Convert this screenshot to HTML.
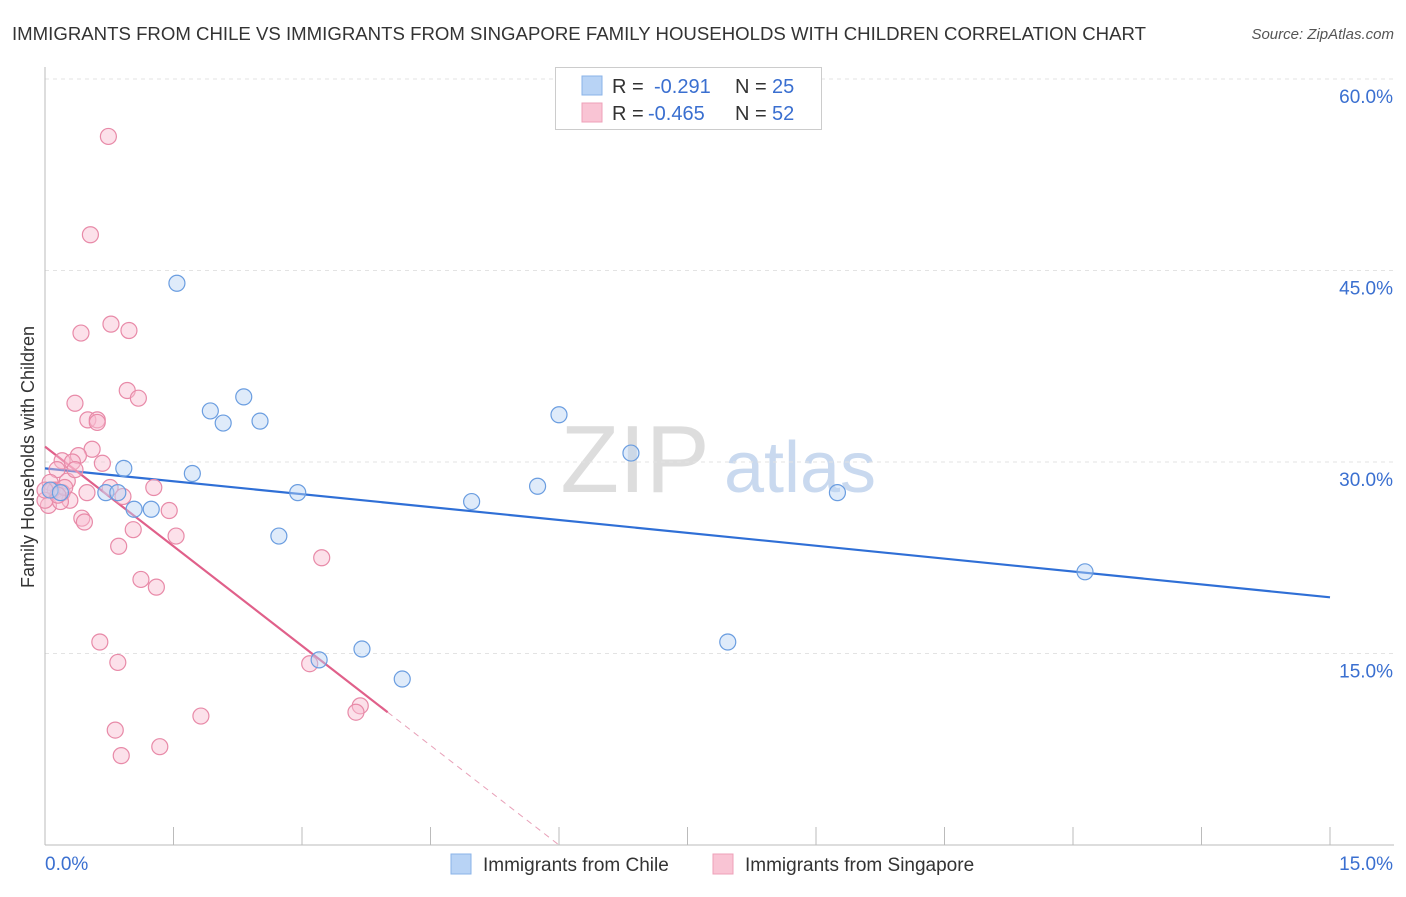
<!DOCTYPE html>
<html><head><meta charset="utf-8"><style>
body{margin:0;background:#fff;font-family:"Liberation Sans",sans-serif;}
svg text{font-family:"Liberation Sans",sans-serif;}
</style></head><body>
<svg id="chart" width="1406" height="892">
<text x="12" y="40" font-size="18" fill="#333" textLength="1134" lengthAdjust="spacingAndGlyphs">IMMIGRANTS FROM CHILE VS IMMIGRANTS FROM SINGAPORE FAMILY HOUSEHOLDS WITH CHILDREN CORRELATION CHART</text>
<text x="1394" y="39" font-size="15" fill="#555" font-style="italic" text-anchor="end">Source: ZipAtlas.com</text>
<text x="635" y="492" font-size="96" fill="#ddd" font-family="Liberation Serif" text-anchor="middle">ZIP</text>
<text x="800" y="492" font-size="72" fill="#c9d9ef" text-anchor="middle">atlas</text>
<text transform="translate(34,457) rotate(-90)" font-size="18" fill="#333" text-anchor="middle">Family Households with Children</text>
<g id="grid"></g><g id="axes"></g><g id="lines"></g><g id="pts"></g>
<g>
<rect x="555.5" y="67.5" width="266" height="62" fill="#fff" stroke="#ccc"/>
<rect x="582" y="76" width="20" height="19" fill="#b8d3f5" stroke="#8ab3e8"/>
<rect x="582" y="103" width="20" height="19" fill="#f9c4d4" stroke="#eea0b8"/>
<text x="612" y="93" font-size="20" fill="#333">R = </text><text x="654" y="93" font-size="20" fill="#3a6fd0">-0.291</text>
<text x="735" y="93" font-size="20" fill="#333">N = </text><text x="772" y="93" font-size="20" fill="#3a6fd0">25</text>
<text x="612" y="120" font-size="20" fill="#333">R = </text><text x="648" y="120" font-size="20" fill="#3a6fd0">-0.465</text>
<text x="735" y="120" font-size="20" fill="#333">N = </text><text x="772" y="120" font-size="20" fill="#3a6fd0">52</text>
</g>
<g>
<rect x="451" y="854" width="20" height="20" fill="#b8d3f5" stroke="#8ab3e8"/>
<text x="483" y="871" font-size="19" fill="#333">Immigrants from Chile</text>
<rect x="713" y="854" width="20" height="20" fill="#f9c4d4" stroke="#eea0b8"/>
<text x="745" y="871" font-size="19" fill="#333">Immigrants from Singapore</text>
</g>
</svg>
<script>
const yTicks=[15,30,45,60];
const yTickLabels=["15.0%","30.0%","45.0%","60.0%"];
const chileX=[1.54,0.92,0.71,0.85,1.04,1.24,1.93,2.08,2.32,2.51,1.72,2.95,2.73,3.20,3.70,4.17,4.98,5.75,6.00,6.84,9.25,12.14,7.97,0.06,0.18];
const chileY=[44.0,29.5,27.6,27.6,26.3,26.3,34.0,33.05,35.1,33.2,29.1,27.6,24.2,14.5,15.35,13.0,26.9,28.1,33.7,30.7,27.6,21.4,15.9,27.8,27.6];
const singX=[0.74,0.53,0.77,0.98,0.42,0.96,1.09,0.35,0.50,0.61,0.61,0.55,0.39,0.20,0.67,0.32,0.14,0.26,0.76,1.27,0.06,0.12,0.20,0.49,0.91,0.29,0.04,0.18,0.43,0.46,1.45,1.03,1.53,0.86,1.12,1.30,3.23,0.64,0.85,3.09,1.82,3.68,3.63,0.82,1.34,0.89,0.08,0.0,0.23,0.15,0.35,0.0];
const singY=[55.5,47.8,40.8,40.3,40.1,35.6,35.0,34.6,33.3,33.3,33.1,31.0,30.5,30.1,29.9,30.0,29.4,28.5,28.0,28.0,28.4,27.8,27.6,27.6,27.3,27.0,26.6,26.9,25.6,25.3,26.2,24.7,24.2,23.4,20.8,20.2,22.5,15.9,14.3,14.2,10.1,10.9,10.4,9.0,7.7,7.0,27.8,27.0,28.0,27.4,29.4,27.8];
const chileTrend=[29.5,19.4];
const singTrend=[31.2,-5.2,4.0];
const X=v=>45+v/15*1285, Y=v=>845-v/60*766;
const NS="http://www.w3.org/2000/svg";
function mk(p,t,a){const e=document.createElementNS(NS,t);for(const k in a)e.setAttribute(k,a[k]);p.appendChild(e);return e;}
const grid=document.getElementById('grid'),axes=document.getElementById('axes'),lines=document.getElementById('lines'),pts=document.getElementById('pts');
yTicks.forEach((t,i)=>{
 const l=mk(grid,'line',{x1:45,x2:1394,y1:Y(t),y2:Y(t),stroke:'#e3e3e3','stroke-dasharray':'4,4'});
 
 
 const tx=mk(grid,'text',{x:1393,y:Y(t)+24,'font-size':19,fill:'#3a6fd0','text-anchor':'end'});
 tx.textContent=yTickLabels[i];
 
 
});
const ya=mk(axes,'line',{x1:45,x2:45,y1:67,y2:845,stroke:'#bbb'});


const xa=mk(axes,'line',{x1:45,x2:1394,y1:845,y2:845,stroke:'#bbb'});


for(let i=0;i<=10;i++){const tk=mk(axes,'line',{x1:X(i*1.5),x2:X(i*1.5),y1:827,y2:845,stroke:'#bbb'});
 
 }
const x0=mk(axes,'text',{x:45,y:870,'font-size':19,fill:'#3a6fd0'});x0.textContent='0.0%';


const x1=mk(axes,'text',{x:1393,y:870,'font-size':19,fill:'#3a6fd0','text-anchor':'end'});x1.textContent='15.0%';


function dot(x,y,f,s,n){const c=mk(pts,'circle',{cx:X(x),cy:Y(y),r:8,fill:f,'fill-opacity':0.45,stroke:s,'stroke-width':1.2});
 
 }
singX.forEach((x,i)=>dot(x,singY[i],'#f9bcd0','#e88aa8','singapore-point'));
chileX.forEach((x,i)=>dot(x,chileY[i],'#b8d3f5','#6a9de0','chile-point'));
const bt=mk(lines,'line',{x1:X(0),y1:Y(chileTrend[0]),x2:X(15),y2:Y(chileTrend[1]),stroke:'#2f6fd6','stroke-width':2.2});


const se=singTrend[2], zx=-singTrend[0]/singTrend[1];
const pt=mk(lines,'line',{x1:X(0),y1:Y(singTrend[0]),x2:X(se),y2:Y(singTrend[0]+singTrend[1]*se),stroke:'#e0608a','stroke-width':2.2});


const pd=mk(lines,'line',{x1:X(se),y1:Y(singTrend[0]+singTrend[1]*se),x2:X(zx),y2:Y(0),stroke:'#e8a0b8','stroke-width':1,'stroke-dasharray':'6,5'});


</script>
</body></html>
